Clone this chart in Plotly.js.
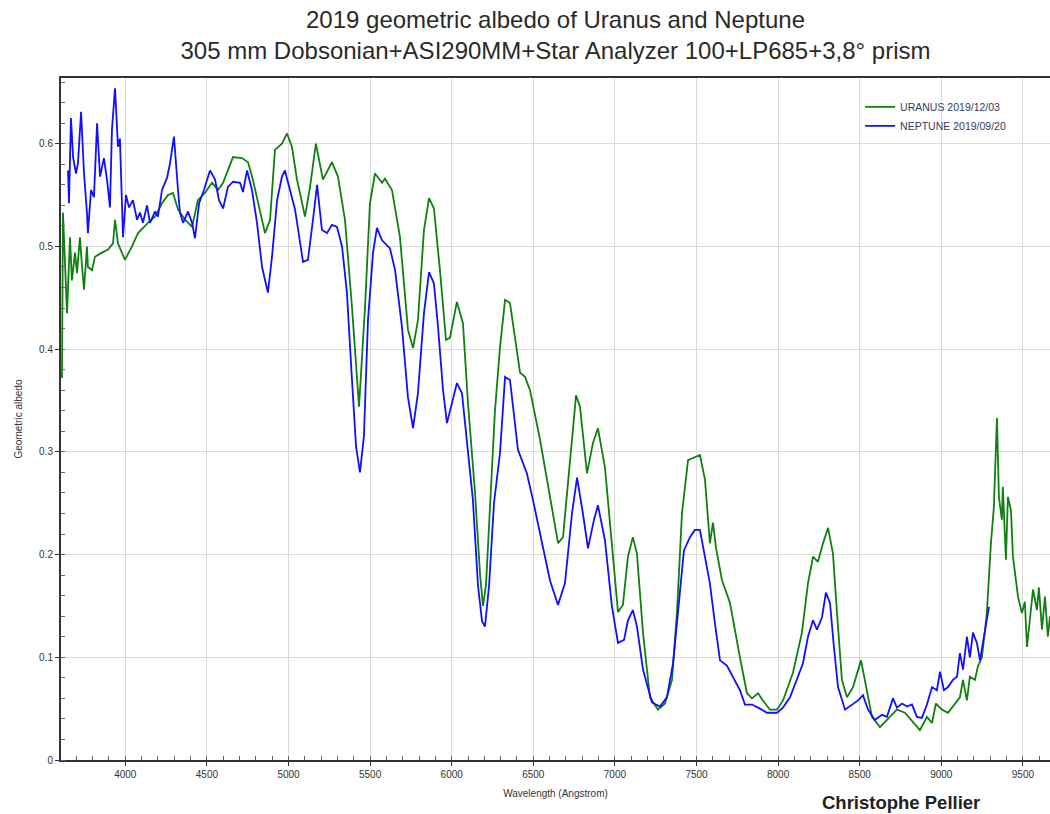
<!DOCTYPE html>
<html>
<head>
<meta charset="utf-8">
<script src="https://cdn.plot.ly/plotly-3.0.1.min.js"></script>
<style>html,body{margin:0;padding:0;background:#fff;}#chart{width:1050px;height:814px;}</style>
</head>
<body>
<div id="chart"></div>
<script>
// Uranus 2019/12/03 — wavelength (Å) and geometric albedo
const uranusWavelength = [3612,3618,3643,3661,3673,3692,3704,3722,3735,3747,3765,3771,3796,3814,3857,3894,3925,3937,3955,3998,4041,4078,4139,4182,4225,4262,4292,4323,4366,4409,4445,4488,4531,4568,4599,4629,4660,4715,4752,4782,4825,4856,4887,4917,4960,4991,5021,5052,5070,5101,5132,5168,5211,5266,5303,5346,5389,5432,5469,5499,5530,5573,5591,5634,5683,5732,5763,5793,5830,5861,5891,5928,5965,5989,6032,6069,6100,6143,6174,6192,6210,6235,6265,6296,6327,6357,6388,6419,6449,6480,6541,6603,6652,6682,6725,6762,6786,6829,6866,6896,6939,6982,7019,7049,7080,7110,7135,7172,7215,7264,7307,7350,7380,7411,7448,7478,7521,7552,7582,7601,7619,7656,7705,7766,7809,7840,7877,7907,7950,7993,8030,8091,8146,8183,8214,8244,8275,8306,8336,8361,8391,8422,8459,8508,8538,8575,8624,8685,8728,8777,8826,8869,8912,8943,8967,9004,9041,9071,9114,9133,9157,9175,9206,9224,9249,9279,9304,9322,9341,9353,9371,9377,9396,9408,9427,9439,9470,9494,9512,9525,9543,9562,9586,9598,9617,9635,9653,9666];
const uranusAlbedo = [0.372,0.533,0.435,0.509,0.467,0.494,0.474,0.509,0.480,0.458,0.500,0.480,0.477,0.490,0.494,0.497,0.503,0.526,0.503,0.487,0.500,0.513,0.523,0.529,0.542,0.550,0.552,0.536,0.526,0.519,0.545,0.552,0.562,0.555,0.562,0.574,0.587,0.586,0.582,0.565,0.533,0.513,0.526,0.594,0.600,0.610,0.597,0.565,0.552,0.529,0.558,0.600,0.565,0.582,0.568,0.526,0.441,0.344,0.441,0.542,0.571,0.562,0.566,0.555,0.509,0.419,0.401,0.428,0.516,0.547,0.537,0.477,0.409,0.411,0.446,0.425,0.347,0.260,0.180,0.150,0.170,0.250,0.340,0.402,0.448,0.445,0.409,0.377,0.373,0.360,0.312,0.256,0.211,0.217,0.289,0.355,0.344,0.279,0.309,0.323,0.285,0.207,0.144,0.151,0.198,0.217,0.201,0.124,0.061,0.049,0.055,0.078,0.143,0.240,0.292,0.294,0.297,0.273,0.211,0.231,0.207,0.175,0.153,0.100,0.065,0.060,0.065,0.058,0.049,0.049,0.058,0.085,0.124,0.172,0.198,0.193,0.211,0.226,0.201,0.143,0.078,0.061,0.071,0.097,0.071,0.042,0.032,0.042,0.049,0.046,0.037,0.029,0.042,0.036,0.055,0.049,0.046,0.052,0.061,0.078,0.058,0.081,0.078,0.091,0.100,0.143,0.211,0.246,0.333,0.256,0.234,0.266,0.195,0.256,0.243,0.198,0.159,0.143,0.154,0.110,0.136,0.166,0.146,0.168,0.127,0.159,0.120,0.140];

// Neptune 2019/09/20 — wavelength (Å) and geometric albedo
const neptuneWavelength = [3649,3655,3667,3680,3698,3710,3729,3747,3765,3771,3790,3808,3827,3845,3869,3888,3906,3918,3937,3955,3967,3986,4004,4023,4047,4072,4090,4108,4133,4151,4182,4200,4225,4256,4274,4298,4323,4335,4354,4384,4409,4427,4452,4482,4519,4550,4574,4599,4629,4660,4703,4721,4746,4776,4807,4838,4874,4899,4930,4960,4978,5009,5040,5089,5119,5150,5175,5205,5236,5266,5297,5328,5358,5389,5414,5438,5462,5487,5518,5542,5573,5604,5622,5653,5695,5732,5763,5793,5830,5861,5891,5916,5947,5971,6002,6032,6063,6094,6130,6161,6186,6204,6229,6259,6296,6327,6357,6406,6461,6498,6553,6602,6651,6694,6737,6768,6804,6835,6872,6896,6939,6982,7019,7056,7080,7110,7135,7172,7227,7276,7319,7356,7386,7423,7460,7490,7521,7552,7582,7613,7644,7686,7723,7766,7797,7840,7877,7932,7993,8030,8073,8116,8152,8183,8214,8238,8269,8293,8318,8342,8367,8410,8453,8490,8520,8551,8593,8636,8667,8704,8728,8759,8790,8820,8851,8881,8912,8943,8973,8992,9016,9041,9071,9096,9114,9133,9157,9175,9194,9218,9237,9255,9279,9292];
const neptuneAlbedo = [0.574,0.542,0.625,0.587,0.571,0.581,0.631,0.571,0.533,0.513,0.555,0.548,0.620,0.568,0.586,0.565,0.538,0.613,0.654,0.597,0.605,0.509,0.550,0.538,0.545,0.526,0.533,0.523,0.540,0.523,0.534,0.529,0.555,0.567,0.581,0.607,0.555,0.533,0.523,0.534,0.523,0.508,0.542,0.555,0.574,0.565,0.545,0.537,0.558,0.563,0.562,0.553,0.574,0.555,0.523,0.480,0.455,0.490,0.545,0.568,0.574,0.555,0.536,0.485,0.487,0.526,0.560,0.516,0.513,0.521,0.519,0.500,0.455,0.370,0.305,0.280,0.315,0.428,0.494,0.518,0.506,0.501,0.498,0.477,0.422,0.353,0.323,0.357,0.435,0.475,0.464,0.422,0.360,0.328,0.347,0.367,0.357,0.312,0.253,0.170,0.135,0.130,0.170,0.250,0.299,0.373,0.370,0.302,0.279,0.253,0.211,0.175,0.151,0.172,0.240,0.275,0.240,0.206,0.234,0.248,0.214,0.149,0.114,0.117,0.136,0.146,0.130,0.088,0.056,0.052,0.061,0.094,0.143,0.204,0.217,0.224,0.224,0.198,0.172,0.133,0.097,0.092,0.081,0.068,0.054,0.054,0.051,0.046,0.046,0.051,0.061,0.078,0.094,0.120,0.136,0.127,0.139,0.163,0.153,0.110,0.071,0.049,0.054,0.058,0.063,0.049,0.039,0.044,0.042,0.060,0.051,0.055,0.052,0.054,0.042,0.041,0.054,0.071,0.068,0.086,0.068,0.071,0.078,0.081,0.104,0.088,0.120,0.100,0.124,0.114,0.097,0.114,0.136,0.149];

const seriesNames = ['URANUS 2019/12/03', 'NEPTUNE 2019/09/20'];
const xTickValues = [4000,4500,5000,5500,6000,6500,7000,7500,8000,8500,9000,9500];
const yTickValues = [0,0.1,0.2,0.3,0.4,0.5,0.6];

const FONT = 'Liberation Sans, Arial, sans-serif';

const traces = [
  {x: uranusWavelength, y: uranusAlbedo, name: seriesNames[0], type: 'scatter', mode: 'lines',
   line: {color: '#108010', width: 1.8}},
  {x: neptuneWavelength, y: neptuneAlbedo, name: seriesNames[1], type: 'scatter', mode: 'lines',
   line: {color: '#1010ff', width: 1.8}}
];

const layout = {
  width: 1050, height: 814,
  margin: {l: 61, r: 0, t: 78, b: 54},
  paper_bgcolor: '#ffffff', plot_bgcolor: '#ffffff',
  font: {family: FONT, color: '#333'},
  title: {
    text: '2019 geometric albedo of Uranus and Neptune<br>305 mm Dobsonian+ASI290MM+Star Analyzer 100+LP685+3,8° prism',
    font: {family: FONT, size: 24, color: '#2a2a2a'},
    x: 0.5, xref: 'paper', xanchor: 'center',
    y: 0.966, yref: 'container', yanchor: 'top'
  },
  xaxis: {
    range: [3606, 9666], tickmode: 'array', tickvals: xTickValues,
    showgrid: true, gridcolor: '#dadada', gridwidth: 1,
    zeroline: false, showline: true, linecolor: '#333', linewidth: 2, mirror: true,
    ticks: 'outside', ticklen: 4, tickcolor: '#333', tickwidth: 1,
    minor: {dtick: 100, tick0: 0, ticks: 'inside', ticklen: 4, tickcolor: '#666', showgrid: false},
    tickfont: {family: FONT, size: 10, color: '#333'},
    title: {text: 'Wavelength (Angstrom)', font: {family: FONT, size: 10, color: '#333'}, standoff: 11}
  },
  yaxis: {
    range: [0, 0.664], tickmode: 'array', tickvals: yTickValues,
    showgrid: true, gridcolor: '#dadada', gridwidth: 1,
    zeroline: false, showline: true, linecolor: '#333', linewidth: 2,
    ticks: 'outside', ticklen: 4, tickcolor: '#333', tickwidth: 1,
    minor: {dtick: 0.02, tick0: 0, ticks: 'inside', ticklen: 4, tickcolor: '#666', showgrid: false},
    tickfont: {family: FONT, size: 10, color: '#333'},
    title: {text: 'Geometric albedo', font: {family: FONT, size: 10, color: '#333'}, standoff: 15}
  },
  showlegend: true,
  legend: {
    x: 0.808, y: 0.979, xanchor: 'left', yanchor: 'top',
    bgcolor: 'rgba(255,255,255,0)', borderwidth: 0,
    font: {family: FONT, size: 10.5, color: '#3a3a5a'},
    itemwidth: 30, tracegroupgap: 0
  },
  annotations: [
    {text: '<b>Christophe Pellier</b>', xref: 'paper', yref: 'paper', x: 0.849, y: -0.062,
     xanchor: 'center', yanchor: 'middle', showarrow: false,
     font: {family: FONT, size: 18.5, color: '#222'}}
  ]
};

Plotly.newPlot('chart', traces, layout, {staticPlot: true, displayModeBar: false});
</script>
</body>
</html>
